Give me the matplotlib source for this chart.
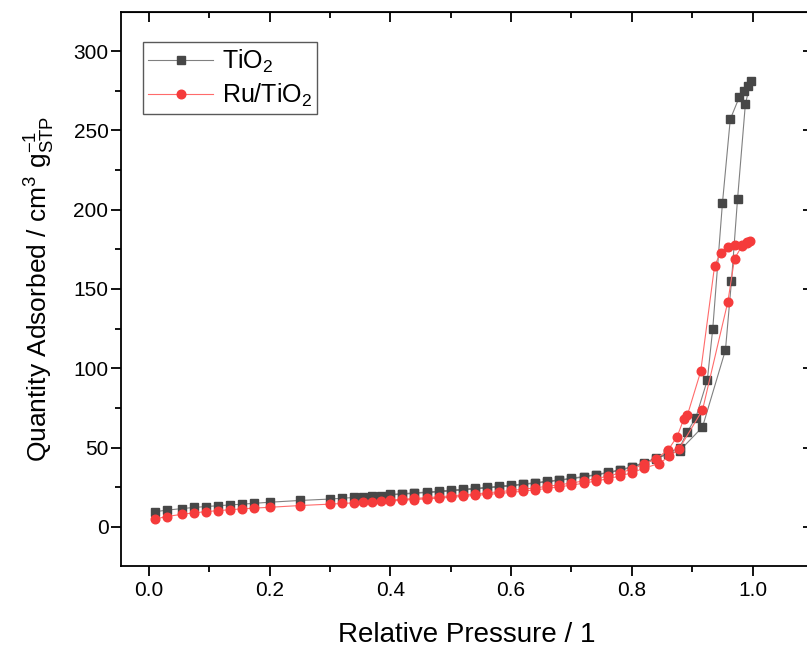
import numpy as np
import matplotlib
matplotlib.use("Agg")
import matplotlib.pyplot as plt
from matplotlib.ticker import MultipleLocator

plt.rcParams["font.family"] = ["Liberation Sans", "DejaVu Sans"]
plt.rcParams["mathtext.fontset"] = "custom"
plt.rcParams["mathtext.rm"] = "Liberation Sans"
plt.rcParams["mathtext.it"] = "Liberation Sans"

# TiO2: adsorption branch then desorption branch (relative pressure, cm3/g)
tio2_p_ads = [0.01, 0.03, 0.055, 0.075, 0.095, 0.115, 0.135, 0.155, 0.175, 0.2,
              0.25, 0.3, 0.32, 0.34, 0.355, 0.37, 0.385, 0.4, 0.42, 0.44,
              0.46, 0.48, 0.5, 0.52, 0.54, 0.56, 0.58, 0.6, 0.62, 0.64,
              0.66, 0.68, 0.7, 0.72, 0.74, 0.76, 0.78, 0.8, 0.82, 0.84,
              0.86, 0.879, 0.917, 0.955, 0.965, 0.975, 0.988, 0.997]
tio2_q_ads = [9.6, 10.6, 11.6, 12.3, 12.9, 13.4, 13.9, 14.4, 14.9, 15.6,
              16.7, 17.6, 18.1, 18.6, 19.0, 19.4, 19.8, 20.2, 20.7, 21.2,
              21.7, 22.2, 22.8, 23.4, 24.0, 24.6, 25.3, 26.0, 26.8, 27.6,
              28.5, 29.4, 30.4, 31.5, 32.7, 34.1, 35.7, 37.6, 40.0, 43.0,
              46.0, 48.0, 63.0, 111.5, 155.0, 206.5, 266.5, 281.0]
tio2_p_des = [0.993, 0.985, 0.978, 0.963, 0.95, 0.934, 0.925, 0.906, 0.892,
              0.879, 0.86, 0.84, 0.82, 0.8, 0.78, 0.76, 0.74, 0.72, 0.7,
              0.68, 0.66, 0.64, 0.62, 0.6, 0.58, 0.56, 0.54, 0.52, 0.5,
              0.48, 0.46, 0.44, 0.42, 0.4]
tio2_q_des = [278.0, 275.0, 271.0, 257.0, 204.0, 125.0, 92.6, 69.0, 60.0,
              50.0, 46.5, 43.5, 40.5, 38.0, 36.0, 34.4, 33.0, 31.8, 30.7,
              29.7, 28.8, 27.9, 27.1, 26.3, 25.6, 24.9, 24.3, 23.7, 23.1,
              22.5, 22.0, 21.5, 21.0, 20.5]

# Ru/TiO2
ru_p_ads = [0.01, 0.03, 0.055, 0.075, 0.095, 0.115, 0.135, 0.155, 0.175, 0.2,
            0.25, 0.3, 0.32, 0.34, 0.355, 0.37, 0.385, 0.4, 0.42, 0.44,
            0.46, 0.48, 0.5, 0.52, 0.54, 0.56, 0.58, 0.6, 0.62, 0.64,
            0.66, 0.68, 0.7, 0.72, 0.74, 0.76, 0.78, 0.8, 0.82, 0.845,
            0.862, 0.878, 0.917, 0.959, 0.97, 0.982, 0.99, 0.996]
ru_q_ads = [5.0, 6.6, 8.0, 8.9, 9.7, 10.3, 10.9, 11.4, 11.9, 12.4,
            13.5, 14.4, 14.8, 15.2, 15.5, 15.8, 16.1, 16.4, 16.8, 17.3,
            17.7, 18.2, 18.7, 19.3, 19.9, 20.5, 21.1, 21.8, 22.6, 23.4,
            24.3, 25.3, 26.4, 27.6, 28.9, 30.4, 32.1, 34.2, 37.0, 40.0,
            44.5, 49.0, 73.7, 142.0, 169.0, 177.0, 179.0, 180.0]
ru_p_des = [0.99, 0.982, 0.97, 0.96, 0.947, 0.937, 0.914, 0.892, 0.886,
            0.875, 0.86, 0.84, 0.82, 0.8, 0.78, 0.76, 0.74, 0.72, 0.7,
            0.68, 0.66, 0.64, 0.62, 0.6, 0.58, 0.56, 0.54, 0.52, 0.5,
            0.48, 0.46, 0.44, 0.42, 0.4]
ru_q_des = [179.5, 178.0, 177.5, 176.5, 173.0, 164.5, 98.0, 70.5, 68.0,
            57.0, 48.5, 43.0, 39.5, 36.5, 34.0, 32.0, 30.4, 29.0, 27.7,
            26.6, 25.6, 24.7, 23.8, 23.0, 22.2, 21.5, 20.8, 20.2, 19.6,
            19.0, 18.5, 18.0, 17.5, 17.0]

x_t = tio2_p_ads + tio2_p_des
y_t = tio2_q_ads + tio2_q_des
x_r = ru_p_ads + ru_p_des
y_r = ru_q_ads + ru_q_des

fig = plt.figure(figsize=(8.07, 6.47), dpi=100)
ax = fig.add_axes([121 / 807, 81 / 647, 692 / 807, 554 / 647])

ax.plot(x_t, y_t, "-s", color="0.5", lw=0.8, ms=5.8, mfc="#474747",
        mec="#474747", label="TiO$_2$", zorder=3)
ax.plot(x_r, y_r, "-o", color="#ff6b6b", lw=0.8, ms=6.2, mfc="#f53b3b",
        mec="#f53b3b", label="Ru/TiO$_2$", zorder=4)

ax.set_xlim(-0.046, 1.1)
ax.set_ylim(-24.6, 324.6)
ax.xaxis.set_major_locator(MultipleLocator(0.2))
ax.xaxis.set_minor_locator(MultipleLocator(0.1))
ax.yaxis.set_major_locator(MultipleLocator(50))
ax.yaxis.set_minor_locator(MultipleLocator(25))
ax.tick_params(which="major", direction="out", length=7, width=1.3,
               labelsize=15, pad=4)
ax.tick_params(axis="y", which="major", pad=2)
ax.tick_params(which="minor", direction="out", length=4, width=1.3)
for s in ax.spines.values():
    s.set_linewidth(1.3)

top = ax.secondary_xaxis("top")
top.xaxis.set_major_locator(MultipleLocator(0.2))
top.xaxis.set_minor_locator(MultipleLocator(0.1))
top.tick_params(which="major", direction="in", length=7, width=1.3,
                labeltop=False)
top.tick_params(which="minor", direction="in", length=4, width=1.3)
right = ax.secondary_yaxis("right")
right.yaxis.set_major_locator(MultipleLocator(50))
right.yaxis.set_minor_locator(MultipleLocator(25))
right.tick_params(which="major", direction="in", length=7, width=1.3,
                  labelright=False)
right.tick_params(which="minor", direction="in", length=4, width=1.3)

ax.set_xlabel("Relative Pressure / 1", fontsize=20, labelpad=16)
ax.set_ylabel(r"Quantity Adsorbed / cm$^3$ g$_{\mathrm{STP}}^{-1}$",
              fontsize=19, labelpad=12)

leg = ax.legend(loc="upper left", fontsize=18, fancybox=False,
                edgecolor="0.35", framealpha=1, handlelength=2.6,
                handletextpad=0.35, borderpad=0.2, labelspacing=0.3,
                borderaxespad=0, bbox_to_anchor=(0.032, 0.945))
leg.get_frame().set_linewidth(1.0)

fig.savefig("out.png", dpi=100)
